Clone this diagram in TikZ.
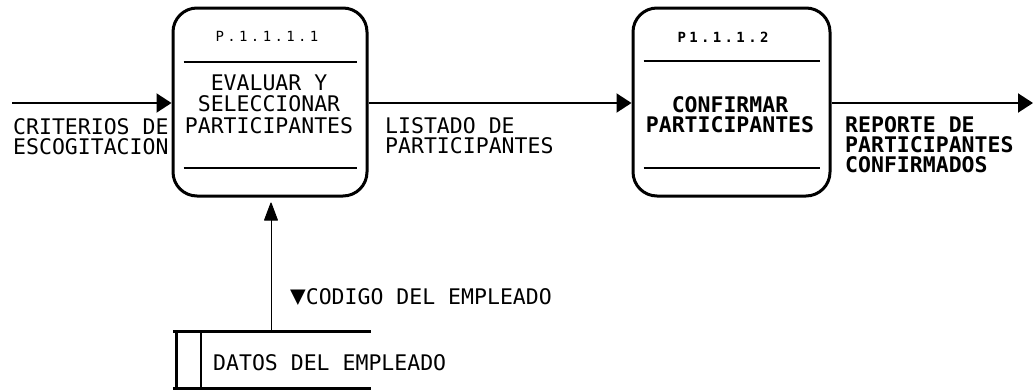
\documentclass[tikz,border=0pt]{standalone}
\usepackage{fontspec}
\usetikzlibrary{arrows.meta}
\newfontfamily\mono{DejaVu Sans Mono}
\newfontfamily\titlemono[LetterSpace=24]{DejaVu Sans Mono}
\tikzset{
  procbox/.style={draw, line width=3pt, rounded corners=24pt, inner sep=0pt},
  sepline/.style={line width=2pt},
  flow/.style={line width=2pt, -{Triangle[length=15pt,width=19pt]}},
  readflow/.style={line width=1pt, -{Triangle[length=19pt,width=14pt,round]}},
  boxtext/.style={font=\fontsize{21.5pt}{21.5pt}\selectfont\mono, align=center, inner sep=0pt},
  flowlabel/.style={font=\fontsize{21.5pt}{20pt}\selectfont\mono, align=left, inner sep=0pt, anchor=north west},
  ptitle/.style={font=\fontsize{14pt}{14pt}\selectfont\titlemono, inner sep=0pt},
  storeline/.style={line width=3pt}
}
\begin{document}
\begin{tikzpicture}[x=1pt,y=-1pt]
\useasboundingbox (0,0) rectangle (1035,391);
% processes
\node[procbox, minimum width=194pt, minimum height=188pt] (p1) at (270,102) {};
\node[procbox, minimum width=197pt, minimum height=188pt] (p2) at (731.5,102) {};
\draw[sepline] ([xshift=12pt]p1.west |- 0,62) -- ([xshift=-12pt]p1.east |- 0,62);
\draw[sepline] ([xshift=12pt]p1.west |- 0,168) -- ([xshift=-12pt]p1.east |- 0,168);
\draw[sepline] ([xshift=12pt]p2.west |- 0,61) -- ([xshift=-12pt]p2.east |- 0,61);
\draw[sepline] ([xshift=12pt]p2.west |- 0,168) -- ([xshift=-12pt]p2.east |- 0,168);
\node[ptitle] (t1) at (267,36) {P.1.1.1.1};
\node[ptitle, font=\fontsize{14pt}{14pt}\selectfont\bfseries\titlemono] (t2) at (723,37) {P1.1.1.2};
\node[boxtext] (n1) at (269,104) {EVALUAR Y\\SELECCIONAR\\PARTICIPANTES};
\node[boxtext, font=\fontsize{21.5pt}{20pt}\selectfont\bfseries\mono] (n2) at (730,115) {CONFIRMAR\\PARTICIPANTES};
% flows
\coordinate (in1) at (12,103);
\coordinate (out1) at (1033,103);
\draw[flow] (in1) -- (in1 -| p1.west);
\draw[flow] (p1.east |- 0,103) -- (p2.west |- 0,103);
\draw[flow] (p2.east |- 0,103) -- (out1);
\node[flowlabel] (l1) at (13,118) {CRITERIOS DE\\ESCOGITACION};
\node[flowlabel] (l2) at (385,117) {LISTADO DE\\PARTICIPANTES};
\node[flowlabel, font=\fontsize{21.5pt}{20pt}\selectfont\bfseries\mono] (l3) at (845,116) {REPORTE DE\\PARTICIPANTES\\CONFIRMADOS};
% data store
\coordinate (s1) at (173,331);
\coordinate (s2) at (371,331);
\coordinate (s3) at (173,388);
\coordinate (s4) at (371,388);
\draw[storeline] (s1) -- (s2);
\draw[storeline] (s3) -- (s4);
\draw[storeline] (176,331) -- (176,388);
\draw[line width=2.5pt] (201,331) -- (201,388);
\node[flowlabel] (store) at (213,354) {DATOS DEL EMPLEADO};
\coordinate (storetop) at (271,331);
\draw[readflow, shorten >=5pt] (storetop) -- (storetop |- p1.south);
\node[flowlabel] (l4) at (290,288) {{\fontsize{26pt}{20pt}\selectfont ▼}CODIGO DEL EMPLEADO};
\end{tikzpicture}
\end{document}
